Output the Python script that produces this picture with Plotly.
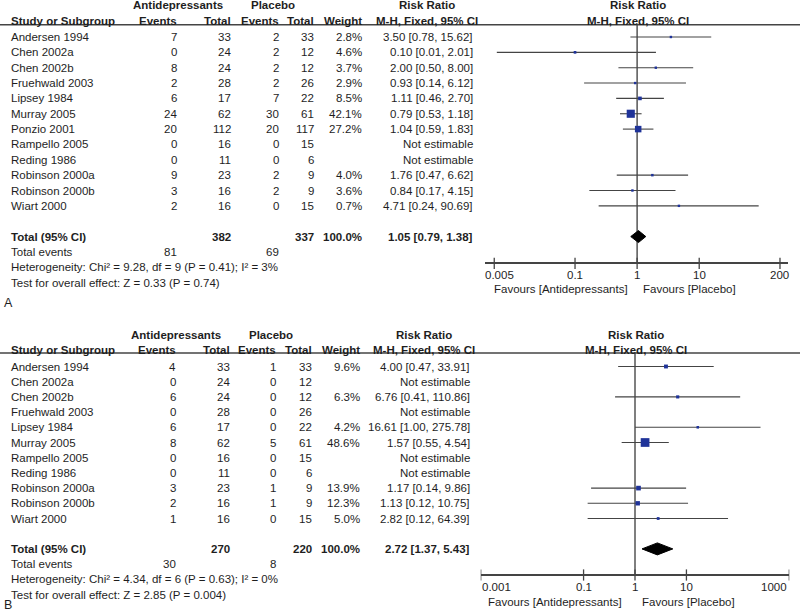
import math
import plotly.graph_objects as go

FONT = "Liberation Sans, Arial, Helvetica, sans-serif"
FS = 11.5
TXT = "#1e1e1e"
BLUE = "#1f3399"
LINE = "#444444"
W, H = 800, 613

# ---------------- Panel A data ----------------
a_studies = ["Andersen 1994", "Chen 2002a", "Chen 2002b", "Fruehwald 2003", "Lipsey 1984",
             "Murray 2005", "Ponzio 2001", "Rampello 2005", "Reding 1986", "Robinson 2000a",
             "Robinson 2000b", "Wiart 2000"]
a_ad_events = [7, 0, 8, 2, 6, 24, 20, 0, 0, 9, 3, 2]
a_ad_total = [33, 24, 24, 28, 17, 62, 112, 16, 11, 23, 16, 16]
a_pl_events = [2, 2, 2, 2, 7, 30, 20, 0, 0, 2, 2, 0]
a_pl_total = [33, 12, 12, 26, 22, 61, 117, 15, 6, 9, 9, 15]
a_weight = [2.8, 4.6, 3.7, 2.9, 8.5, 42.1, 27.2, None, None, 4.0, 3.6, 0.7]
a_rr = [3.50, 0.10, 2.00, 0.93, 1.11, 0.79, 1.04, None, None, 1.76, 0.84, 4.71]
a_lo = [0.78, 0.0055, 0.50, 0.14, 0.46, 0.53, 0.59, None, None, 0.47, 0.17, 0.24]
a_hi = [15.62, 2.01, 8.00, 6.12, 2.70, 1.18, 1.83, None, None, 6.62, 4.15, 90.69]
a_total = [382, 337]
a_total_events = [81, 69]
a_total_rr = [1.05, 0.79, 1.38]
a_het = "Heterogeneity: Chi² = 9.28, df = 9 (P = 0.41); I² = 3%"
a_test = "Test for overall effect: Z = 0.33 (P = 0.74)"
a_ticks = [0.005, 0.1, 1, 10, 200]
a_ticktext = ["0.005", "0.1", "1", "10", "200"]

# ---------------- Panel B data ----------------
b_studies = ["Andersen 1994", "Chen 2002a", "Chen 2002b", "Fruehwald 2003", "Lipsey 1984",
             "Murray 2005", "Rampello 2005", "Reding 1986", "Robinson 2000a",
             "Robinson 2000b", "Wiart 2000"]
b_ad_events = [4, 0, 6, 0, 6, 8, 0, 0, 3, 2, 1]
b_ad_total = [33, 24, 24, 28, 17, 62, 16, 11, 23, 16, 16]
b_pl_events = [1, 0, 0, 0, 0, 5, 0, 0, 1, 1, 0]
b_pl_total = [33, 12, 12, 26, 22, 61, 15, 6, 9, 9, 15]
b_weight = [9.6, None, 6.3, None, 4.2, 48.6, None, None, 13.9, 12.3, 5.0]
b_rr = [4.00, None, 6.76, None, 16.61, 1.57, None, None, 1.17, 1.13, 2.82]
b_lo = [0.47, None, 0.41, None, 1.00, 0.55, None, None, 0.14, 0.12, 0.12]
b_hi = [33.91, None, 110.86, None, 275.78, 4.54, None, None, 9.86, 10.75, 64.39]
b_total = [270, 220]
b_total_events = [30, 8]
b_total_rr = [2.72, 1.37, 5.43]
b_het = "Heterogeneity: Chi² = 4.34, df = 6 (P = 0.63); I² = 0%"
b_test = "Test for overall effect: Z = 2.85 (P = 0.004)"
b_ticks = [0.001, 0.1, 1, 10, 1000]
b_ticktext = ["0.001", "0.1", "1", "10", "1000"]

panels = [
    dict(label="A", studies=a_studies, ade=a_ad_events, adt=a_ad_total, ple=a_pl_events,
         plt=a_pl_total, wt=a_weight, rr=a_rr, lo=a_lo, hi=a_hi, tot=a_total,
         tot_ev=a_total_events, tot_rr=a_total_rr, het=a_het, test=a_test,
         ticks=a_ticks, ticktext=a_ticktext,
         tick_anchor=[("left", -10), ("center", 0), ("center", 0), ("center", 0), ("center", 0)],
         xa="x", ya="y", y0=37.0, dy=15.35,
         cols=dict(name=10, ev1=178, tot1=232, ev2=279.5, tot2=315, wt=363, rr=474,
                   h_ad=177.5, h_pl=273, h_rr=427, h_fp=638),
         hdr1_px=5, hdr2_px=21, rule_px=24.7, axis_px=263.3, ticklab_px=275, fav_px=288.5,
         label_px=303, fav_shift=(-8, 5), xrange=[-2.45, 2.43], xdomain=[485 / W, 788 / W]),
    dict(label="B", studies=b_studies, ade=b_ad_events, adt=b_ad_total, ple=b_pl_events,
         plt=b_pl_total, wt=b_weight, rr=b_rr, lo=b_lo, hi=b_hi, tot=b_total,
         tot_ev=b_total_events, tot_rr=b_total_rr, het=b_het, test=b_test,
         ticks=b_ticks, ticktext=b_ticktext,
         tick_anchor=[("left", 0), ("center", 0), ("center", 0), ("center", 0), ("right", -1)],
         xa="x2", ya="y2", y0=366.5, dy=15.2,
         cols=dict(name=10, ev1=177, tot1=230.5, ev2=277, tot2=313, wt=360.5, rr=471,
                   h_ad=176, h_pl=271, h_rr=424, h_fp=636),
         hdr1_px=335, hdr2_px=350, rule_px=353, axis_px=575, ticklab_px=587, fav_px=601.7,
         label_px=605, fav_shift=(-12.5, 5.5), xrange=[-3, 3], xdomain=[480.7 / W, 789.3 / W]),
]

fig = go.Figure()
annotations = []
shapes = []
layout_axes = {}


def ann(text, x, y, yref, anchor="right", bold=False, size=FS, xref="paper", xshift=0):
    annotations.append(dict(
        text=f"<b>{text}</b>" if bold else text, x=x, y=y, xref=xref, yref=yref,
        xanchor=anchor, yanchor="middle", showarrow=False, borderpad=0, xshift=xshift,
        font=dict(family=FONT, size=size, color=TXT)))


for i, p in enumerate(panels):
    y0, dy = p["y0"], p["dy"]

    def row(px_, y0=y0, dy=dy):
        return (px_ - y0) / dy

    c = p["cols"]
    yref = p["ya"]
    n = len(p["studies"])
    X = lambda v: v / W

    # headers
    ann("Antidepressants", X(c["h_ad"]), row(p["hdr1_px"]), yref, "center", True)
    ann("Placebo", X(c["h_pl"]), row(p["hdr1_px"]), yref, "center", True)
    ann("Risk Ratio", X(c["h_rr"]), row(p["hdr1_px"]), yref, "center", True)
    ann("Risk Ratio", X(c["h_fp"]), row(p["hdr1_px"]), yref, "center", True)
    ann("Study or Subgroup", X(c["name"]), row(p["hdr2_px"]), yref, "left", True)
    ann("Events", X(c["ev1"]), row(p["hdr2_px"]), yref, "right", True)
    ann("Total", X(c["tot1"]), row(p["hdr2_px"]), yref, "right", True)
    ann("Events", X(c["ev2"]), row(p["hdr2_px"]), yref, "right", True)
    ann("Total", X(c["tot2"]), row(p["hdr2_px"]), yref, "right", True)
    ann("Weight", X(c["wt"]), row(p["hdr2_px"]), yref, "right", True)
    ann("M-H, Fixed, 95% CI", X(c["h_rr"]), row(p["hdr2_px"]), yref, "center", True)
    ann("M-H, Fixed, 95% CI", X(c["h_fp"]), row(p["hdr2_px"]), yref, "center", True)

    shapes.append(dict(type="line", xref="paper", yref=yref, x0=0, x1=1,
                       y0=row(p["rule_px"]), y1=row(p["rule_px"]),
                       line=dict(color=LINE, width=1.5)))

    # study rows
    for r in range(n):
        ann(p["studies"][r], X(c["name"]), r, yref, "left")
        ann(str(p["ade"][r]), X(c["ev1"]), r, yref)
        ann(str(p["adt"][r]), X(c["tot1"]), r, yref)
        ann(str(p["ple"][r]), X(c["ev2"]), r, yref)
        ann(str(p["plt"][r]), X(c["tot2"]), r, yref)
        if p["rr"][r] is None:
            ann("Not estimable", X(c["rr"]), r, yref)
        else:
            ann(f"{p['wt'][r]:.1f}%", X(c["wt"]), r, yref)
            ann(f"{p['rr'][r]:.2f} [{p['lo'][r]:.2f}, {p['hi'][r]:.2f}]", X(c["rr"]), r, yref)

    tr = n + 1
    ann("Total (95% CI)", X(c["name"]), tr, yref, "left", True)
    ann(str(p["tot"][0]), X(c["tot1"]), tr, yref, "right", True)
    ann(str(p["tot"][1]), X(c["tot2"]), tr, yref, "right", True)
    ann("100.0%", X(c["wt"]), tr, yref, "right", True)
    trr = p["tot_rr"]
    ann(f"{trr[0]:.2f} [{trr[1]:.2f}, {trr[2]:.2f}]", X(c["rr"]), tr, yref, "right", True)
    ann("Total events", X(c["name"]), tr + 1, yref, "left")
    ann(str(p["tot_ev"][0]), X(c["ev1"]), tr + 1, yref)
    ann(str(p["tot_ev"][1]), X(c["ev2"]), tr + 1, yref)
    ann(p["het"], X(c["name"]), tr + 2, yref, "left")
    ann(p["test"], X(c["name"]), tr + 3, yref, "left")
    ann(p["label"], X(3), row(p["label_px"]), yref, "left", size=12.5)

    # forest: vertical line of no effect
    fig.add_trace(go.Scatter(x=[1, 1], y=[row(p["rule_px"]), row(p["axis_px"])],
                             mode="lines", line=dict(color="#555555", width=1.5),
                             xaxis=p["xa"], yaxis=p["ya"], hoverinfo="skip", showlegend=False))
    # CI lines
    cx, cy = [], []
    sx, sy, ss = [], [], []
    for r in range(n):
        if p["rr"][r] is None:
            continue
        cx += [p["lo"][r], p["hi"][r], None]
        cy += [r, r, None]
        sx.append(p["rr"][r])
        sy.append(r)
        ss.append(max(2.4, 1.25 * p["wt"][r] ** 0.5))
    fig.add_trace(go.Scatter(x=cx, y=cy, mode="lines", line=dict(color=LINE, width=1.1),
                             xaxis=p["xa"], yaxis=p["ya"], hoverinfo="skip", showlegend=False))
    fig.add_trace(go.Scatter(x=sx, y=sy, mode="markers",
                             marker=dict(symbol="square", size=ss, color=BLUE, opacity=1,
                                         line=dict(width=0)),
                             xaxis=p["xa"], yaxis=p["ya"], showlegend=False))
    # diamond
    hh = 6.0 / dy
    fig.add_trace(go.Scatter(x=[trr[1], trr[0], trr[2], trr[0], trr[1]],
                             y=[tr, tr - hh, tr, tr + hh, tr],
                             mode="lines", fill="toself", fillcolor="black",
                             line=dict(color="black", width=1),
                             xaxis=p["xa"], yaxis=p["ya"], hoverinfo="skip", showlegend=False))
    # crossing tick marks
    ar = row(p["axis_px"])
    fig.add_trace(go.Scatter(x=p["ticks"], y=[ar] * len(p["ticks"]), mode="markers",
                             marker=dict(symbol="line-ns", size=8,
                                         line=dict(color=LINE, width=1.3)),
                             xaxis=p["xa"], yaxis=p["ya"], hoverinfo="skip", showlegend=False))
    # tick labels
    tl = row(p["ticklab_px"])
    for tv, tt, (anc, sh) in zip(p["ticks"], p["ticktext"], p["tick_anchor"]):
        ann(tt, math.log10(tv), tl, yref, anc, xref=p["xa"], xshift=sh)
    # favours labels
    fr = row(p["fav_px"])
    ann("Favours [Antidepressants]", 0, fr, yref, "right", xref=p["xa"], xshift=p["fav_shift"][0])
    ann("Favours [Placebo]", 0, fr, yref, "left", xref=p["xa"], xshift=p["fav_shift"][1])

    xname = "xaxis" if i == 0 else "xaxis2"
    yname = "yaxis" if i == 0 else "yaxis2"
    layout_axes[xname] = dict(
        type="log", range=p["xrange"], domain=p["xdomain"], anchor="free",
        position=1 - p["axis_px"] / H, showline=True, linecolor=LINE, linewidth=1.5,
        tickvals=p["ticks"], ticks="", showticklabels=False,
        showgrid=False, zeroline=False, fixedrange=True)
    yax = dict(range=[(H - y0) / dy, -y0 / dy], domain=[0, 1], visible=False,
               showgrid=False, zeroline=False, fixedrange=True)
    if i == 1:
        yax["overlaying"] = "y"
    layout_axes[yname] = yax

fig.update_layout(
    width=W, height=H, margin=dict(l=0, r=0, t=0, b=0),
    paper_bgcolor="white", plot_bgcolor="rgba(0,0,0,0)",
    annotations=annotations, shapes=shapes, showlegend=False,
    font=dict(family=FONT, size=FS, color=TXT),
    **layout_axes)

fig.write_html("out.html", config={"displayModeBar": False},
               post_script="document.body.style.margin='0px';document.body.style.overflow='hidden';")
